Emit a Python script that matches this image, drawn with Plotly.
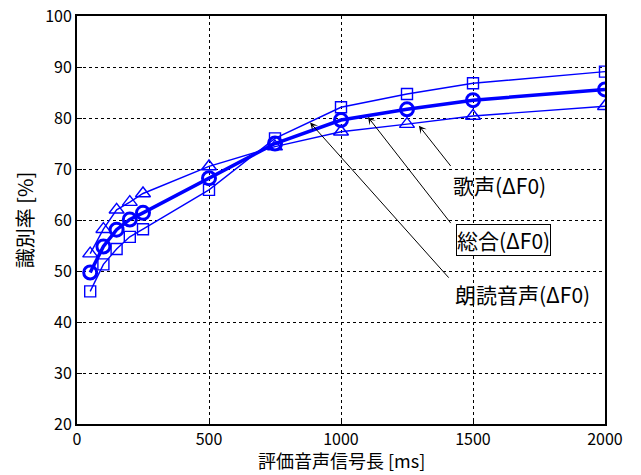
import plotly.graph_objects as go

lengths_ms = [50, 100, 150, 200, 250, 500, 750, 1000, 1250, 1500, 2000]
total_rate = [49.7, 54.8, 58.1, 60.1, 61.4, 68.2, 75.0, 79.6, 81.7, 83.5, 85.6]
reading_rate = [46.0, 51.3, 54.3, 56.7, 58.2, 65.9, 76.0, 82.1, 84.7, 86.8, 89.1]
singing_rate = [53.4, 58.2, 62.0, 63.5, 65.2, 70.5, 74.4, 77.3, 78.8, 80.4, 82.3]

FONT = "Noto Sans CJK JP"
BLUE = "#0000ff"

fig = go.Figure()
fig.add_trace(go.Scatter(x=lengths_ms, y=reading_rate, mode="lines+markers",
                         line=dict(color=BLUE, width=1.4),
                         marker=dict(symbol="square-open", size=11, color=BLUE, line=dict(width=1.4, color=BLUE)),
                         showlegend=False))
fig.add_trace(go.Scatter(x=lengths_ms, y=singing_rate, mode="lines+markers",
                         line=dict(color=BLUE, width=1.4),
                         marker=dict(symbol="triangle-up-open", size=13, color=BLUE, line=dict(width=1.4, color=BLUE)),
                         showlegend=False))
fig.add_trace(go.Scatter(x=lengths_ms, y=total_rate, mode="lines+markers",
                         line=dict(color=BLUE, width=3.5),
                         marker=dict(symbol="circle-open", size=13, color=BLUE, line=dict(width=3, color=BLUE)),
                         showlegend=False))

arrows = [
    (1420, 70.3, 1295, 78.5),
    (1420, 59.1, 1102, 80.2),
    (1413, 48.4, 883, 79.1),
]
for ax_, ay_, x_, y_ in arrows:
    fig.add_annotation(x=x_, y=y_, ax=ax_, ay=ay_, xref="x", yref="y", axref="x", ayref="y",
                       text="", showarrow=True, arrowhead=3, arrowsize=1.3, arrowwidth=1,
                       arrowcolor="black")

labels = [
    ("歌声(ΔF0)", 1602, 66.9, False),
    ("総合(ΔF0)", 1616, 56.0, True),
    ("朗読音声(ΔF0)", 1687, 45.4, False),
]
for txt, x_, y_, boxed in labels:
    fig.add_annotation(x=x_, y=y_, xref="x", yref="y", text=txt, showarrow=False,
                       font=dict(family=FONT, size=21, color="black"),
                       bordercolor="black" if boxed else "rgba(0,0,0,0)", borderwidth=1,
                       borderpad=0, bgcolor="white" if boxed else "rgba(0,0,0,0)")

# x-axis title placed as a paper annotation at the bottom of the figure
fig.add_annotation(x=0.5, y=0, xref="paper", yref="paper", yshift=-50, text="評価音声信号長 [ms]",
                   showarrow=False, xanchor="center", yanchor="bottom", borderpad=0,
                   font=dict(family=FONT, size=18, color="black"))

axis_common = dict(showline=True, linecolor="black", linewidth=2, mirror=True,
                   showgrid=True, gridcolor="black", griddash="dot", gridwidth=1,
                   zeroline=False, ticks="inside", ticklen=5, tickcolor="black",
                   tickfont=dict(family=FONT, size=16, color="black"), automargin=False)
fig.update_xaxes(range=[0, 2000], tickvals=[0, 500, 1000, 1500, 2000], **axis_common)
fig.update_yaxes(range=[20, 100], tickvals=list(range(20, 101, 10)),
                 title=dict(text="識別率 [%]", font=dict(family=FONT, size=20, color="black"), standoff=6),
                 **axis_common)
fig.update_layout(width=641, height=475, margin=dict(l=77, r=36, t=16, b=51),
                  plot_bgcolor="white", paper_bgcolor="white",
                  font=dict(family=FONT, color="black"))
fig.write_html("out.html")
